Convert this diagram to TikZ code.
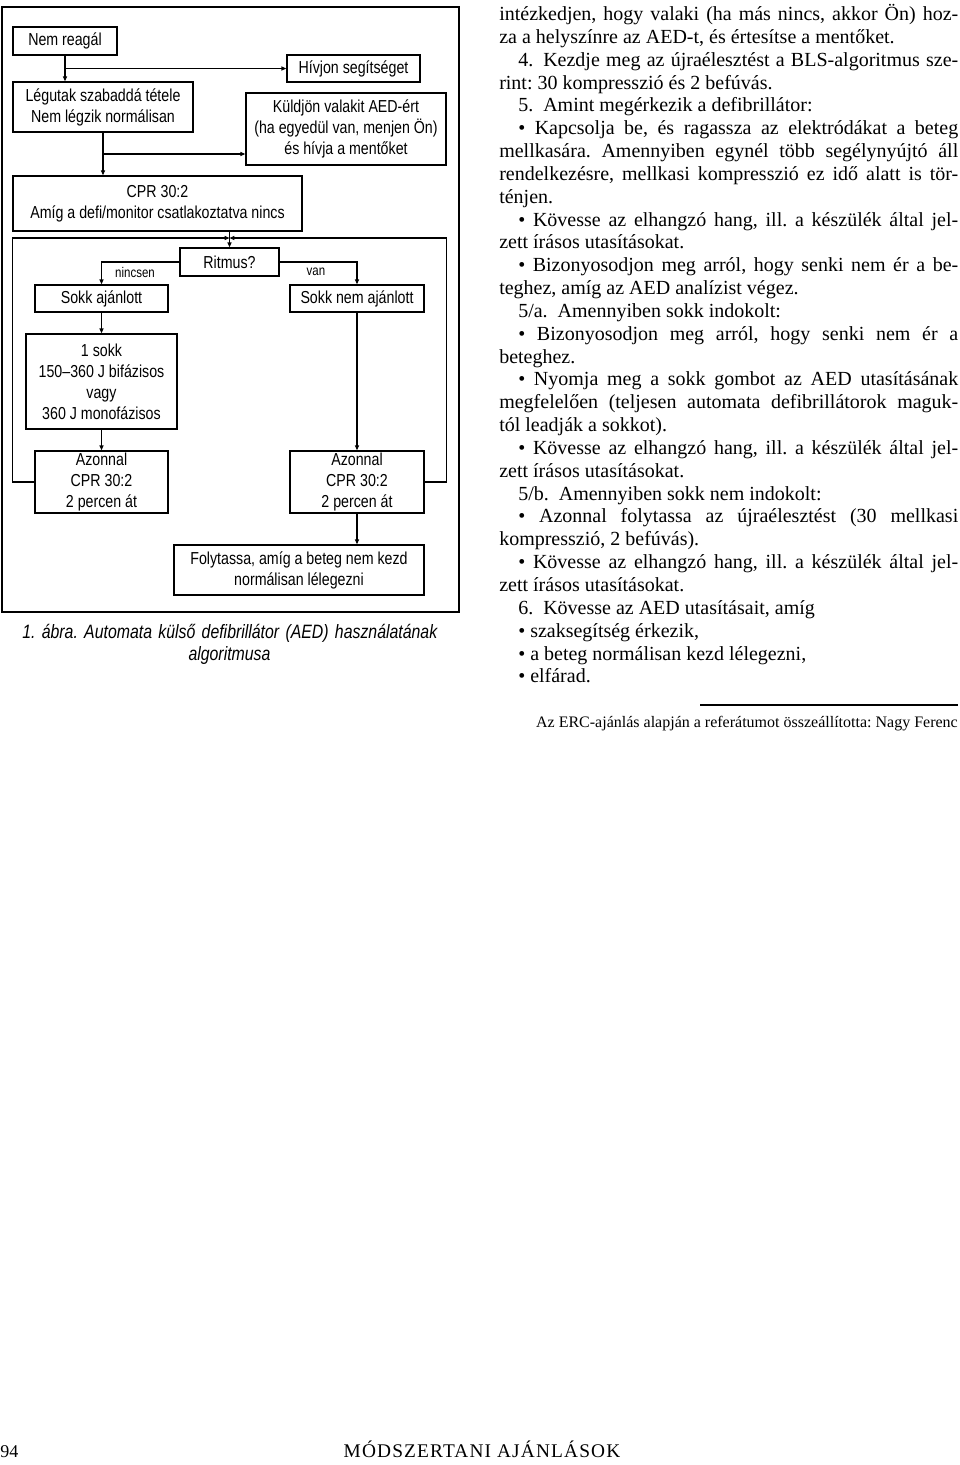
\documentclass[tikz,border=0pt]{standalone}
\usepackage{fontspec}
\setmainfont{Liberation Serif}
\newfontfamily\condsans[FakeStretch=0.82]{Liberation Sans}
\newfontfamily\headfont[LetterSpace=6]{Liberation Serif}
\usetikzlibrary{arrows.meta}
\newcommand\flowfont{\condsans\fontsize{13}{15.75}\selectfont}
\newlength\colw \setlength\colw{344.25pt}
\newlength\indw \setlength\indw{330pt}
\newlength\parind \setlength\parind{14.25pt}
\newcommand\fline[1]{\makebox[\colw][s]{#1}}
\newcommand\iline[1]{\hspace*{\parind}\makebox[\indw][s]{#1}}
\newcommand\ilft[1]{\hspace*{\parind}#1}
\frenchspacing
\begin{document}
\begin{tikzpicture}[x=0.75pt,y=-0.75pt,
    flowbox/.style={draw,line width=1.1pt,font=\flowfont,align=center,inner sep=0pt},
    conn/.style={line width=0.8pt,-{Triangle[length=3.6pt,width=3pt]}},
    lbl/.style={font=\condsans\fontsize{10.5}{12}\selectfont,inner sep=0pt},
    txt/.style={anchor=base west,inner sep=0pt,font=\fontsize{15}{17}\selectfont}]
  \useasboundingbox (0,0) rectangle (960,1465);
  \fill[white] (0,0) rectangle (960,1465);
  % flowchart
  \draw[line width=1.1pt] (2,7) rectangle (459,612);
  \node[flowbox,minimum width=78pt,minimum height=21pt] (nem) at (65,41) {Nem reagál};
  \node[flowbox,minimum width=99.75pt,minimum height=20.25pt] (hiv) at (353.5,68.5) {Hívjon segítséget};
  \node[flowbox,minimum width=135pt,minimum height=37.5pt] (leg) at (103,107) {Légutak szabaddá tétele\\Nem légzik normálisan};
  \node[flowbox,minimum width=150pt,minimum height=54pt] (kul) at (346,129) {Küldjön valakit AED-ért\\(ha egyedül van, menjen Ön)\\és hívja a mentőket};
  \node[flowbox,minimum width=216.75pt,minimum height=41.25pt] (cpr) at (157.5,203.5) {CPR 30:2\\Amíg a defi/monitor csatlakoztatva nincs};
  \node[flowbox,minimum width=74.25pt,minimum height=21pt] (rit) at (229.5,262) {Ritmus?};
  \node[flowbox,minimum width=99.75pt,minimum height=20.25pt] (sok) at (101.5,298.5) {Sokk ajánlott};
  \node[flowbox,minimum width=100.5pt,minimum height=20.25pt] (snem) at (357,298.5) {Sokk nem ajánlott};
  \node[flowbox,minimum width=113.25pt,minimum height=71.25pt] (egy) at (101.5,381.5) {1 sokk\\150–360 J bifázisos\\vagy\\360 J monofázisos};
  \node[flowbox,minimum width=99.75pt,minimum height=46.5pt] (azl) at (101.5,482) {Azonnal\\CPR 30:2\\2 percen át};
  \node[flowbox,minimum width=100.5pt,minimum height=46.5pt] (azr) at (357,482) {Azonnal\\CPR 30:2\\2 percen át};
  \node[flowbox,minimum width=187.5pt,minimum height=37.5pt] (foly) at (299,570) {Folytassa, amíg a beteg nem kezd\\normálisan lélegezni};
  \node[lbl] (lno) at (135,272) {nincsen};
  \node[lbl] (lyes) at (316,272) {van};
  \coordinate (b2) at (103,154);
  \coordinate (jn) at (229.5,238);
  \draw[conn] (nem.south) -- (nem.south |- leg.north);
  \draw[conn] (nem.south |- hiv.west) -- (hiv.west);
  \draw[conn] (leg.south) -- (leg.south |- cpr.north);
  \draw[conn] (b2) -- (b2 -| kul.west);
  \draw[conn] (cpr.south -| rit.north) -- (rit.north);
  \draw[conn] (azl.west) -- ++(-22,0) |- (jn);
  \draw[conn] (azr.east) -- ++(22,0) |- (jn);
  \draw[conn] (rit.west) -| (sok.north);
  \draw[conn] (rit.east) -| (snem.north);
  \draw[conn] (sok.south) -- (egy.north);
  \draw[conn] (egy.south) -- (azl.north);
  \draw[conn] (snem.south) -- (azr.north);
  \draw[conn] (azr.south) -- (azr.south |- foly.north);
  % caption
  \node[anchor=base west,inner sep=0pt,font=\condsans\fontsize{14.5}{17}\selectfont\itshape] (cap1) at (22,638)
    {\makebox[311.25pt][s]{1. ábra. Automata külső defibrillátor (AED) használatának}};
  \node[anchor=base,inner sep=0pt,font=\condsans\fontsize{14.5}{17}\selectfont\itshape] (cap2) at (229.5,660) {algoritmusa};
  % text column
  \foreach \i/\s in {
      1/{\fline{intézkedjen, hogy valaki (ha más nincs, akkor Ön) hoz-}},
      2/{za a helyszínre az AED-t, és értesítse a mentőket.},
      3/{\iline{4.\enspace Kezdje meg az újraélesztést a BLS-algoritmus sze-}},
      4/{rint: 30 kompresszió és 2 befúvás.},
      5/{\ilft{5.\enspace Amint megérkezik a defibrillátor:}},
      6/{\iline{• Kapcsolja be, és ragassza az elektródákat a beteg}},
      7/{\fline{mellkasára. Amennyiben egynél több segélynyújtó áll}},
      8/{\fline{rendelkezésre, mellkasi kompresszió ez idő alatt is tör-}},
      9/{ténjen.},
      10/{\iline{• Kövesse az elhangzó hang, ill. a készülék által jel-}},
      11/{zett írásos utasításokat.},
      12/{\iline{• Bizonyosodjon meg arról, hogy senki nem ér a be-}},
      13/{teghez, amíg az AED analízist végez.},
      14/{\ilft{5/a.\enspace Amennyiben sokk indokolt:}},
      15/{\iline{• Bizonyosodjon meg arról, hogy senki nem ér a}},
      16/{beteghez.},
      17/{\iline{• Nyomja meg a sokk gombot az AED utasításának}},
      18/{\fline{megfelelően (teljesen automata defibrillátorok maguk-}},
      19/{tól leadják a sokkot).},
      20/{\iline{• Kövesse az elhangzó hang, ill. a készülék által jel-}},
      21/{zett írásos utasításokat.},
      22/{\ilft{5/b.\enspace Amennyiben sokk nem indokolt:}},
      23/{\iline{• Azonnal folytassa az újraélesztést (30 mellkasi}},
      24/{kompresszió, 2 befúvás).},
      25/{\iline{• Kövesse az elhangzó hang, ill. a készülék által jel-}},
      26/{zett írásos utasításokat.},
      27/{\ilft{6.\enspace Kövesse az AED utasításait, amíg}},
      28/{\ilft{• szaksegítség érkezik,}},
      29/{\ilft{• a beteg normálisan kezd lélegezni,}},
      30/{\ilft{• elfárad.}}}
    \node[txt] (t\i) at (499,{20.5+22.84*(\i-1)}) {\s};
  \draw[line width=0.8pt] (700,705) -- (958,705);
  \node[anchor=base east,inner sep=0pt,font=\fontsize{12}{14}\selectfont] (cred) at (958,727)
    {Az ERC-ajánlás alapján a referátumot összeállította: Nagy Ferenc};
  % footer
  \node[anchor=base west,inner sep=0pt,font=\fontsize{13.5}{16}\selectfont] (pg) at (0,1457) {94};
  \node[anchor=base,inner sep=0pt,font=\headfont\fontsize{14.5}{17}\selectfont] (head) at (482,1457) {MÓDSZERTANI AJÁNLÁSOK};
\end{tikzpicture}
\end{document}
